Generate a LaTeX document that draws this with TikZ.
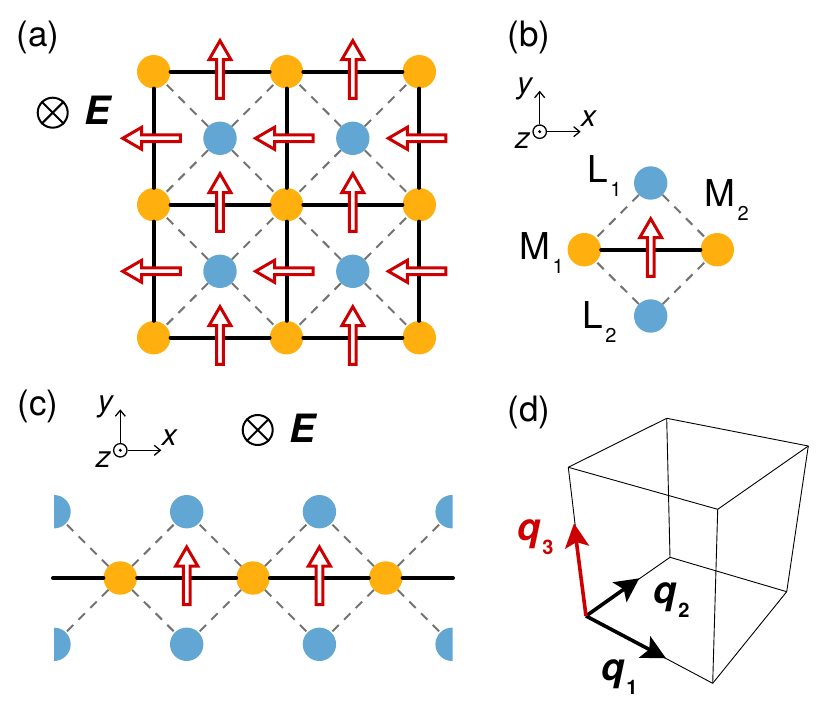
\documentclass[tikz,border=0pt]{standalone}
\usepackage{fontspec}
\setmainfont{TeX Gyre Heros}
\usetikzlibrary{arrows.meta}
\definecolor{colM}{HTML}{FFB00F}
\definecolor{colL}{HTML}{62A6D3}
\definecolor{colR}{HTML}{CC0000}
\tikzstyle{metal} = [circle, inner sep=0, minimum size=33.4pt, fill=colM]
\tikzstyle{ligand} = [circle, inner sep=0, minimum size=33.4pt, fill=colL]
\tikzstyle{bond} = [black, line width=4pt, line cap=round]
\tikzstyle{weak} = [black!55, line width=2pt, dash pattern=on 9pt off 7.5pt]
\tikzstyle{panel} = [font=\fontsize{35}{35}\selectfont, inner sep=0]
\tikzstyle{axis} = [font=\fontsize{30}{30}\selectfont\itshape, inner sep=0]
\tikzstyle{site} = [font=\fontsize{37}{37}\selectfont, inner sep=0, anchor=base west]
\tikzstyle{qlabel} = [font=\fontsize{38}{38}\selectfont\bfseries\itshape, inner sep=0, anchor=base west]
\tikzstyle{thin edge} = [black, line width=0.9pt]
\tikzstyle{qarrow} = [line width=3.6pt, -{Stealth[length=24pt,width=24pt,inset=5pt]}]

\newcommand{\subbed}[2]{#1\raisebox{-14pt}{\kern2pt\fontsize{20}{20}\selectfont\mdseries\upshape #2}}

\tikzset{
  magarrow/.pic={
    \draw[colR,fill=white,line width=3pt,miter limit=10]
      (-3.4,26.6) -- (-3.4,-12) -- (-11,-12) -- (0,-31) -- (11,-12)
      -- (3.4,-12) -- (3.4,26.6) -- cycle;
  },
  efield/.pic={
    \node[draw,circle,line width=2pt,minimum size=30pt,inner sep=0] (-ring) {};
    \draw[line width=2pt] (-ring.45) -- (-ring.225) (-ring.135) -- (-ring.315);
  },
  axes/.pic={
    \node[draw,circle,line width=1.3pt,minimum size=13.4pt,inner sep=0] (-o) {};
    \node[fill,circle,minimum size=3.4pt,inner sep=0] (-dot) {};
    \coordinate (-xend) at (41,0);
    \coordinate (-yend) at (0,-41);
    \draw[-{Straight Barb[length=6pt,width=10pt]},line width=1.3pt] (-o) -- (-xend);
    \draw[-{Straight Barb[length=6pt,width=10pt]},line width=1.3pt] (-o) -- (-yend);
    \node[axis] (-x) at (49,-13) {x};
    \node[axis] (-y) at (-15,-43) {y};
    \node[axis] (-z) at (-17,9) {z};
  }
}

\begin{document}
\begin{tikzpicture}[x=1pt,y=-1pt]

\useasboundingbox (0,0) rectangle (830,706);

% (a)
\node[panel] (a) at (38,37) {(a)};

\foreach \i in {0,1,2} {
  \foreach \j in {0,1,2} {
    \node[metal] (A\i\j) at ({153.7+132.8*\i},{71.7+133*\j}) {};
  }
}
\foreach \i in {0,1} {
  \foreach \j in {0,1} {
    \node[ligand] (B\i\j) at ({220+132.8*\i},{138.3+133*\j}) {};
  }
}

\foreach \j in {0,1,2} {
  \draw[bond] (A0\j) -- (A1\j);
  \draw[bond] (A1\j) -- (A2\j);
}
\foreach \i in {0,1,2} {
  \draw[bond] (A\i0) -- (A\i1);
  \draw[bond] (A\i1) -- (A\i2);
}
\foreach \i/\k in {0/1,1/2} {
  \foreach \j/\l in {0/1,1/2} {
    \draw[weak] (B\i\j) -- (A\i\j);
    \draw[weak] (B\i\j) -- (A\k\j);
    \draw[weak] (B\i\j) -- (A\i\l);
    \draw[weak] (B\i\j) -- (A\k\l);
  }
}

\foreach \i in {0,1} {
  \foreach \j in {0,1,2} {
    \pic at ({220+132.8*\i},{71.7+133*\j}) {magarrow};
  }
}
\foreach \i in {0,1,2} {
  \foreach \j in {0,1} {
    \pic[rotate=90] at ({153.7+132.8*\i},{138.3+133*\j}) {magarrow};
  }
}

\pic (Ea) at (52.7,112.7) {efield};
\node[qlabel,font=\fontsize{39}{39}\selectfont\bfseries\itshape]
     (Elabel) at (84,125) {E};

% (b)
\node[panel] (b) at (529,37) {(b)};
\pic (axb) at (539.7,131.7) {axes};

\node[metal] (M1) at (584.3,249.7) {};
\node[metal] (M2) at (717.3,249.7) {};
\node[ligand] (L1) at (650.7,183) {};
\node[ligand] (L2) at (650.7,316) {};

\draw[bond] (M1) -- (M2);
\draw[weak] (L1) -- (M1);
\draw[weak] (L1) -- (M2);
\draw[weak] (L2) -- (M1);
\draw[weak] (L2) -- (M2);

\pic at (650.7,249.7) {magarrow};

\node[site] (labL1) at (587.5,182.7) {\subbed{L}{1}};
\node[site] (labL2) at (582.5,328.3) {\subbed{L}{2}};
\node[site] (labM1) at (519.5,259.3) {\subbed{M}{1}};
\node[site] (labM2) at (704.5,206.7) {\subbed{M}{2}};

% (c)
\node[panel] (c) at (38,406) {(c)};
\pic (axc) at (120.3,450.3) {axes};
\pic (Ec) at (257.7,430) {efield};
\node[qlabel,font=\fontsize{39}{39}\selectfont\bfseries\itshape]
     (Elabelc) at (289,442.5) {E};

\begin{scope}
\clip (54,490) rectangle (452.5,670);
\foreach \i in {0,1,2,3} {
  \node[ligand] (T\i) at ({54+132.7*\i},511.7) {};
  \node[ligand] (D\i) at ({54+132.7*\i},644.3) {};
}
\end{scope}
\foreach \i in {0,1,2} {
  \node[metal] (C\i) at ({120.3+132.7*\i},578) {};
}
\coordinate (lineL) at (53,578);
\coordinate (lineR) at (453,578);

\draw[bond] (lineL) -- (C0);
\draw[bond] (C0) -- (C1);
\draw[bond] (C1) -- (C2);
\draw[bond] (C2) -- (lineR);

\foreach \i/\k in {0/1,1/2,2/3} {
  \draw[weak] (C\i) -- (T\i);
  \draw[weak] (C\i) -- (T\k);
  \draw[weak] (C\i) -- (D\i);
  \draw[weak] (C\i) -- (D\k);
}

\pic at (186.7,578) {magarrow};
\pic at (319.4,578) {magarrow};

% (d)
\node[panel] (d) at (529,412) {(d)};

\coordinate (A) at (666.7,418.3);
\coordinate (B) at (808.3,446);
\coordinate (C) at (568.3,467.3);
\coordinate (D) at (717.7,509.3);
\coordinate (E) at (670,557.3);
\coordinate (F) at (786.7,591.7);
\coordinate (G) at (586,616);
\coordinate (H) at (712.7,683.3);

\draw[thin edge] (C) -- (A);
\draw[thin edge] (A) -- (B);
\draw[thin edge] (C) -- (D);
\draw[thin edge] (D) -- (B);
\draw[thin edge] (A) -- (E);
\draw[thin edge] (B) -- (F);
\draw[thin edge] (D) -- (H);
\draw[thin edge] (C) -- (G);
\draw[thin edge] (E) -- (F);
\draw[thin edge] (E) -- (G);
\draw[thin edge] (G) -- (H);
\draw[thin edge] (F) -- (H);

\coordinate (q1tip) at (666,658.3);
\coordinate (q2tip) at (639.3,578.3);
\coordinate (q3tip) at (574,523.3);

\draw[qarrow,black] (G) -- (q1tip);
\draw[qarrow,black] (G) -- (q2tip);
\draw[qarrow,colR] (G) -- (q3tip);

\node[qlabel,colR] (q3) at (517,540) {\subbed{q}{\textbf{3}}};
\node[qlabel] (q2) at (653,603) {\subbed{q}{\textbf{2}}};
\node[qlabel] (q1) at (601,680) {\subbed{q}{\textbf{1}}};

\end{tikzpicture}
\end{document}
